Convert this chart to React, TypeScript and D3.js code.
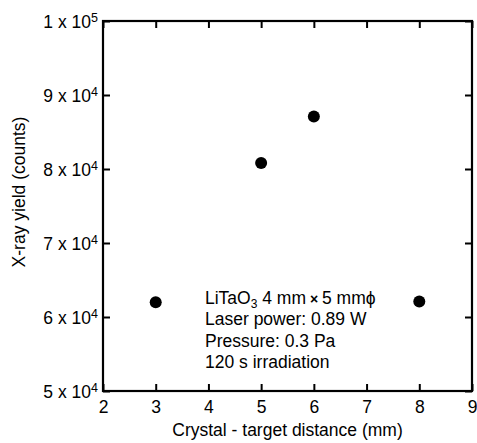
import React, { useEffect, useRef } from 'react'
import * as d3 from 'd3'

// crystal - target distance (mm)
const distances = [3, 5, 6, 8]
// x-ray yield (counts)
const yields = [62000, 80800, 87100, 62100]

const xTicks = [2, 3, 4, 5, 6, 7, 8, 9]
const yTicks = [50000, 60000, 70000, 80000, 90000, 100000]
const yMantissa = ['5', '6', '7', '8', '9', '1']
const yExponent = ['4', '4', '4', '4', '4', '5']

const noteLines = ['Laser power: 0.89 W', 'Pressure: 0.3 Pa', '120 s irradiation']

const App = () => {
  const ref = useRef<SVGSVGElement>(null)
  const chartWidth = 477
  const chartHeight = 443
  const margin = { top: 21, right: 5, bottom: 52, left: 103 }

  useEffect(() => {
    const root = d3.select(ref.current)
    root.selectAll('*').remove()

    const width = chartWidth - margin.left - margin.right
    const height = chartHeight - margin.top - margin.bottom
    const font = "'Liberation Sans', Arial, sans-serif"
    const fs = '17.5px'

    const svg = root
      .append('g')
      .attr('transform', `translate(${margin.left}, ${margin.top})`)
      .style('font-family', font)

    const x = d3.scaleLinear().domain([2, 9]).range([0, width])
    const y = d3.scaleLinear().domain([50000, 100000]).range([height, 0])

    const styleAxis = (g: any) => {
      g.select('.domain').remove()
      g.selectAll('.tick line').attr('stroke', '#000').attr('stroke-width', 2)
      g.selectAll('text').attr('fill', '#000').style('font-size', fs).style('font-family', font)
    }

    svg // xaxis bottom
      .append('g')
      .attr('transform', `translate(0, ${height})`)
      .call(d3.axisBottom(x).tickValues(xTicks).tickSize(-7).tickPadding(10).tickFormat(d3.format('d')))
      .call(styleAxis)

    svg // xaxis top
      .append('g')
      .call(d3.axisTop(x).tickValues(xTicks).tickSize(-7).tickFormat(() => ''))
      .call(styleAxis)

    const yAxis = svg // yaxis left
      .append('g')
      .call(d3.axisLeft(y).tickValues(yTicks).tickSize(-7).tickFormat(() => ''))
      .call(styleAxis)

    yAxis.selectAll('.tick text').each(function (_d, i) {
      const t = d3.select(this as SVGTextElement)
      t.text(null).attr('dy', '0.35em').attr('x', -5)
      t.append('tspan').text(`${yMantissa[i]} x 10`)
      t.append('tspan').text(yExponent[i]).attr('dy', '-0.45em').style('font-size', '12.5px')
    })

    svg // yaxis right
      .append('g')
      .attr('transform', `translate(${width}, 0)`)
      .call(d3.axisRight(y).tickValues(yTicks).tickSize(-7).tickFormat(() => ''))
      .call(styleAxis)

    svg // frame
      .append('rect')
      .attr('x', 0)
      .attr('y', 0)
      .attr('width', width)
      .attr('height', height)
      .attr('fill', 'none')
      .attr('stroke', '#000')
      .attr('stroke-width', 2.2)

    svg // points
      .append('g')
      .selectAll('circle')
      .data(distances)
      .enter()
      .append('circle')
      .attr('cx', d => x(d))
      .attr('cy', (_d, i) => y(yields[i]))
      .attr('r', 6)
      .attr('fill', '#000')

    // annotation
    const note = svg
      .append('text')
      .attr('x', 102)
      .attr('y', 283)
      .style('font-size', fs)
      .attr('fill', '#000')
    note.append('tspan').text('LiTaO')
    note.append('tspan').text('3').attr('dy', '4').style('font-size', '12px')
    note.append('tspan').text(' 4 mm').attr('dy', '-4')
    note.append('tspan').text(' \u00d7 ').style('font-weight', 'bold').style('font-size', '14px')
    note.append('tspan').text('5 mm\u03d5')

    svg
      .append('g')
      .selectAll('text')
      .data(noteLines)
      .enter()
      .append('text')
      .attr('x', 102)
      .attr('y', (_d, i) => 304 + i * 21.5)
      .style('font-size', fs)
      .attr('fill', '#000')
      .text(d => d)

    svg // xlab
      .append('text')
      .text('Crystal - target distance (mm)')
      .attr('text-anchor', 'middle')
      .style('font-size', fs)
      .attr('x', width / 2)
      .attr('y', height + 44.5)

    svg // ylab
      .append('text')
      .text('X-ray yield (counts)')
      .attr('transform', 'rotate(-90)')
      .attr('text-anchor', 'middle')
      .style('font-size', fs)
      .attr('x', -171)
      .attr('y', -78)
  }, [])

  return (
    <svg
      width={chartWidth}
      height={chartHeight}
      ref={ref}
      style={{ position: 'absolute', left: 0, top: 0, background: '#fff' }}
    />
  )
}

export default App
